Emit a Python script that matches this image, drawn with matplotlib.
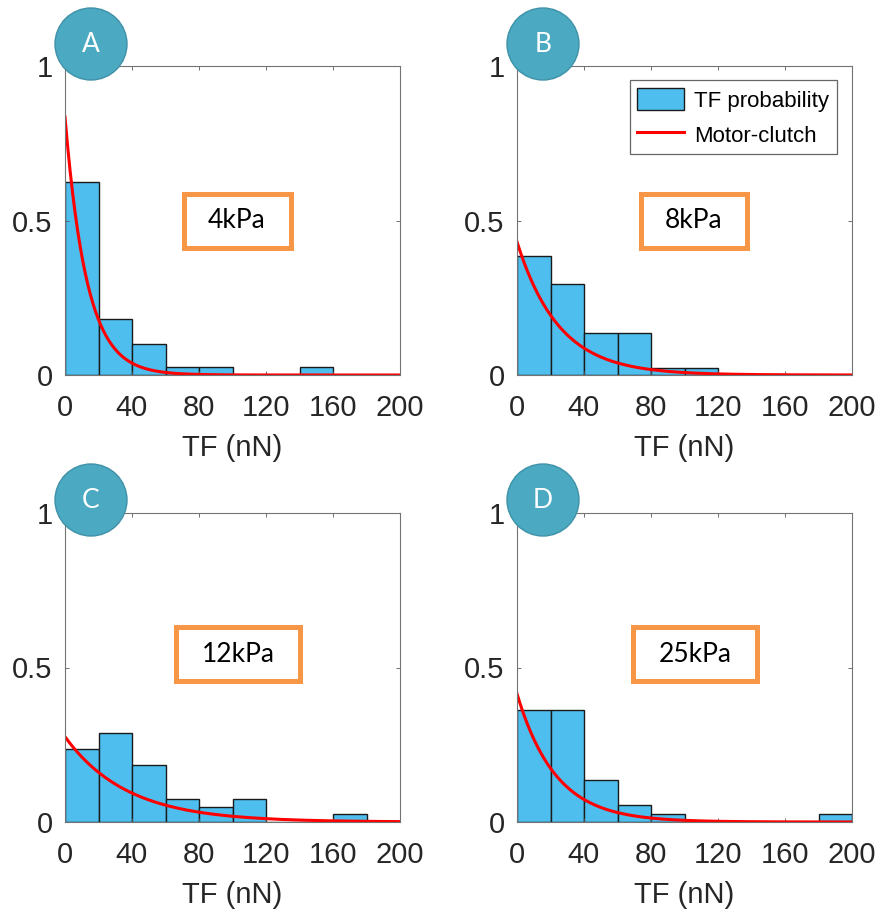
import numpy as np
import matplotlib
matplotlib.use("Agg")
import matplotlib.pyplot as plt
from matplotlib.patches import Circle, Rectangle

# histogram bins (nN) and fitted curve grid
bin_edges = np.arange(0, 220, 20)
tf_grid = np.linspace(0, 200, 400)

# TF probability per 20 nN bin
prob_a = [0.625, 0.18, 0.10, 0.025, 0.025, 0, 0, 0.025, 0, 0]
prob_b = [0.386, 0.295, 0.136, 0.136, 0.023, 0.023, 0, 0, 0, 0]
prob_c = [0.235, 0.287, 0.184, 0.076, 0.05, 0.076, 0, 0, 0.025, 0]
prob_d = [0.361, 0.361, 0.136, 0.055, 0.025, 0, 0, 0, 0, 0.025]
probs = [prob_a, prob_b, prob_c, prob_d]

# motor-clutch model: amplitude and decay length (nN)
fit_amp = [0.835, 0.431, 0.276, 0.415]
fit_decay = [13.0, 25.0, 37.0, 23.0]

panel_letters = ["A", "B", "C", "D"]
stiffness = ["4kPa", "8kPa", "12kPa", "25kPa"]
x_ticks = [0, 40, 80, 120, 160, 200]
y_ticks = [0, 0.5, 1]
y_ticklabels = ["0", "0.5", "1"]

W, H = 881, 915
fig = plt.figure(figsize=(W / 100, H / 100), dpi=100)
plt.rcParams['font.family'] = ['Liberation Sans', 'DejaVu Sans']

# panel layout in pixels (left, top)
ax_w, ax_h = 335, 309
corners = [(65, 66), (517, 66), (65, 513), (517, 513)]
# label box centres (pixels) and widths
box_centres = [(237, 221), (694, 221), (238, 654), (695, 654)]
box_widths = [107, 106, 124, 124]
box_h = 54

bar_color = "#4DBEEE"
axes = []
for i, (lx, ty) in enumerate(corners):
    ax = fig.add_axes([lx / W, 1 - (ty + ax_h) / H, ax_w / W, ax_h / H])
    bars = ax.bar(bin_edges[:-1], probs[i], width=20, align='edge',
                  color=bar_color, edgecolor='#1a1a1a', linewidth=1.0,
                  label='TF probability')
    line, = ax.plot(tf_grid, fit_amp[i] * np.exp(-tf_grid / fit_decay[i]),
                    color='#ff0000', lw=2.2, label='Motor-clutch')
    ax.set_xlim(0, 200)
    ax.set_ylim(0, 1)
    ax.set_xticks(x_ticks)
    ax.set_yticks(y_ticks)
    ax.set_yticklabels(y_ticklabels)
    ax.tick_params(direction='in', length=3, width=0.6, color='0.35',
                   top=True, right=True, labelsize=21, labelcolor='#262626')
    ax.tick_params(axis='x', pad=14)
    ax.tick_params(axis='y', pad=9)
    for s in ax.spines.values():
        s.set_color('0.45')
        s.set_linewidth(0.8)
    ax.set_xlabel('TF (nN)', fontsize=21, color='#262626', labelpad=8)
    if i == 1:
        leg = ax.legend([bars, line], ['TF probability', 'Motor-clutch'],
                        loc='upper right', bbox_to_anchor=(0.955, 0.955),
                        borderaxespad=0, fontsize=16, fancybox=False,
                        edgecolor='0.4', framealpha=1, handlelength=2.1,
                        handleheight=1.2, handletextpad=0.45,
                        labelspacing=0.5, borderpad=0.35)
        leg.get_frame().set_linewidth(0.9)
    axes.append(ax)

# overlay for panel badges and stiffness boxes
ov = fig.add_axes([0, 0, 1, 1])
ov.set_xlim(0, W)
ov.set_ylim(H, 0)
ov.axis('off')

badge_centres = [(91, 44), (543, 44), (91, 500), (543, 500)]
for (cx, cy), letter in zip(badge_centres, panel_letters):
    ov.add_patch(Circle((cx, cy), 36, facecolor='#4BA9C1',
                        edgecolor='#3f92a8', lw=1.0, zorder=5))
    ov.text(cx, cy + 1, letter, color='white', fontsize=19,
            family=['Lato', 'DejaVu Sans'], ha='center', va='center', zorder=6)

for (cx, cy), bw, label in zip(box_centres, box_widths, stiffness):
    ov.add_patch(Rectangle((cx - bw / 2, cy - box_h / 2), bw, box_h,
                           facecolor='white', edgecolor='#F79646', lw=3.6,
                           zorder=4))
    ov.text(cx, cy, label, fontsize=19, family=['Lato', 'DejaVu Sans'],
            ha='center', va='center', color='black', zorder=5)

fig.savefig('out.png', dpi=100, facecolor='white')
